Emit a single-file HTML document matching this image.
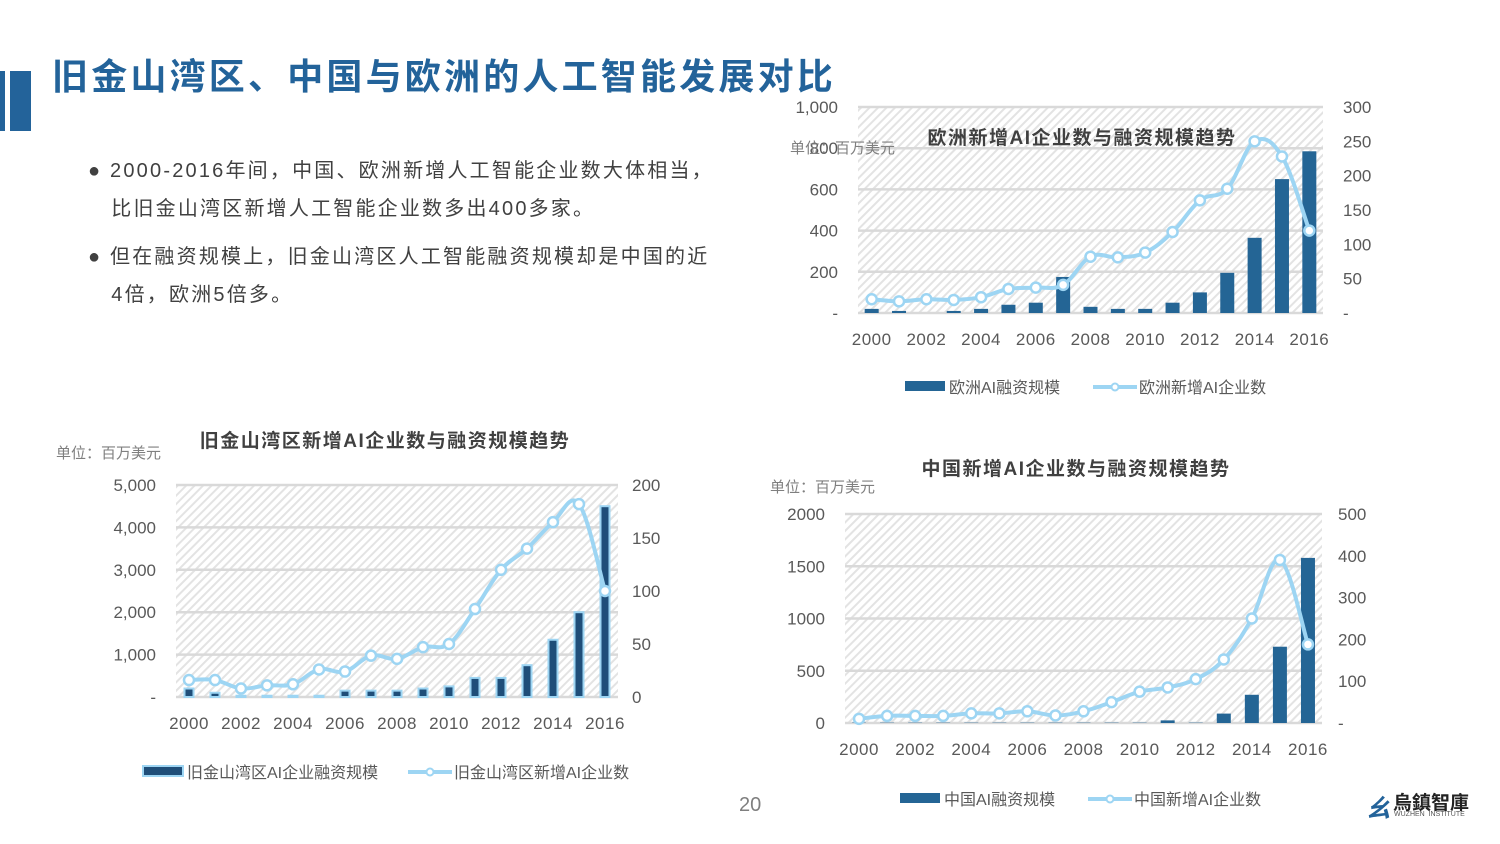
<!DOCTYPE html>
<html><head><meta charset="utf-8">
<style>
body{margin:0;width:1500px;height:844px;background:#fff;overflow:hidden;position:relative;font-family:"Liberation Sans","Noto Sans CJK SC",sans-serif;}
.abs{position:absolute;}
#title{left:52px;top:48px;font-size:36px;font-weight:bold;color:#23639a;letter-spacing:3.2px;white-space:nowrap;}
.bul{left:88px;font-size:20px;color:#404040;line-height:38px;white-space:nowrap;letter-spacing:2.2px}
svg{position:absolute;left:0;top:0;}
</style></head><body>
<div class="abs" style="left:0;top:71px;width:5px;height:60px;background:#23639a"></div>
<div class="abs" style="left:10px;top:71px;width:21px;height:60px;background:#23639a"></div>
<div id="title" class="abs">旧金山湾区、中国与欧洲的人工智能发展对比</div>
<div class="abs bul" style="top:152px">● 2000-2016年间，中国、欧洲新增人工智能企业数大体相当，<br>&nbsp;&nbsp;&nbsp;比旧金山湾区新增人工智能企业数多出400多家。</div>
<div class="abs bul" style="top:238px">● 但在融资规模上，旧金山湾区人工智能融资规模却是中国的近<br>&nbsp;&nbsp;&nbsp;4倍，欧洲5倍多。</div>
<div class="abs" style="left:739px;top:794px;font-size:20px;color:#7f7f7f">20</div>
<div class="abs" style="left:1365px;top:788px;">
  <span style="font-size:26px;color:#23639a;font-weight:bold;font-style:italic">ㄠ</span>
  <span style="position:absolute;left:28px;top:0;font-size:19px;color:#222;white-space:nowrap;font-weight:bold">烏鎮智庫</span>
  <span style="position:absolute;left:29px;top:23px;font-size:7px;color:#555;white-space:nowrap">WUZHEN&nbsp;&nbsp;INSTITUTE</span>
</div>
<svg id="svg" width="1500" height="844">
<defs><pattern id="hatch" width="6" height="6" patternUnits="userSpaceOnUse" patternTransform="rotate(45)"><rect width="6" height="6" fill="#fff"/><rect width="2" height="6" fill="#e3e3e3"/></pattern></defs>
</svg>
<script>
const years=['2000','2001','2002','2003','2004','2005','2006','2007','2008','2009','2010','2011','2012','2013','2014','2015','2016'];
const euFunding=[20,10,0,10,20,40,50,175,30,20,20,50,100,195,365,650,785];
const euCompanies=[20,17,20,19,23,35,37,41,82,81,88,118,164,181,250,228,120];
const euLeftTicks=['-','200','400','600','800','1,000'];
const euRightTicks=['-','50','100','150','200','250','300'];
const sfFunding=[200,100,30,30,30,30,150,150,150,200,250,450,450,750,1350,2000,4500];
const sfCompanies=[16,16,8,11,12,26,24,39,36,47,50,83,120,140,165,182,100];
const sfLeftTicks=['-','1,000','2,000','3,000','4,000','5,000'];
const sfRightTicks=['0','50','100','150','200'];
const cnFunding=[3,3,3,3,3,3,3,3,3,3,3,25,3,90,270,730,1580];
const cnCompanies=[10,17,17,17,23,23,28,18,28,50,75,85,105,152,250,390,188];
const cnLeftTicks=['0','500','1000','1500','2000'];
const cnRightTicks=['-','100','200','300','400','500'];

const svg=document.getElementById('svg');
const NS='http://www.w3.org/2000/svg';
function mk(tag,attrs,parent){const e=document.createElementNS(NS,tag);for(const k in attrs)e.setAttribute(k,attrs[k]);(parent||svg).appendChild(e);return e;}
function txt(x,y,s,size,anchor,fill,weight,parent,ls){const t=mk('text',{x:x,y:y,'font-size':size,'text-anchor':anchor,fill:fill,'font-weight':weight||'normal','letter-spacing':ls||0,'font-family':'"Liberation Sans","Noto Sans CJK SC",sans-serif'},parent);t.textContent=s;return t;}

function chart(c){
  const g=mk('g',{});
  
  
  const w=c.x1-c.x0,h=c.y0-c.y1,n=years.length,step=w/n;
  const xc=i=>c.x0+step*(i+0.5);
  const yl=v=>c.y0-v/c.lmax*h;
  const yr=v=>c.y0-v/c.rmax*h;
  const bg=mk('rect',{x:c.x0,y:c.y1,width:w,height:h,fill:'url(#hatch)'},g);
  
  
  c.lt.forEach((s,i)=>{const y=c.y0-i*h/(c.lt.length-1);
    const gl=mk('line',{x1:c.x0,x2:c.x1,y1:y,y2:y,stroke:'#d9d9d9','stroke-width':2.5},g);
    
    
    const t=txt(c.x0-20,y+6,s,17,'end','#595959','normal',g);
    
    });
  c.rt.forEach((s,i)=>{const y=c.y0-i*h/(c.rt.length-1);
    const t=txt(c.x1+c.rOff,y+6,s,17,'start','#595959','normal',g);
    
    });
  years.forEach((s,i)=>{if(i%2==0){const t=txt(xc(i),c.y0+32,s,17,'middle','#595959','normal',g,0.5);
    
    }});
  c.bars.forEach((v,i)=>{const y=yl(v);
    const r=mk('rect',{x:xc(i)-c.bw/2,y:y,width:c.bw,height:c.y0-y,fill:c.barColor,stroke:c.barStroke||'none','stroke-width':c.barStroke?2:0},g);
    
    });
  const pts=c.line.map((v,i)=>[xc(i),yr(v)]);
  let d='M'+pts[0][0]+','+pts[0][1];
  for(let i=1;i<pts.length;i++){const p0=pts[i-2]||pts[i-1],p1=pts[i-1],p2=pts[i],p3=pts[i+1]||p2;const t=0.18;
    d+=' C'+(p1[0]+(p2[0]-p0[0])*t)+','+(p1[1]+(p2[1]-p0[1])*t)+' '+(p2[0]-(p3[0]-p1[0])*t)+','+(p2[1]-(p3[1]-p1[1])*t)+' '+p2[0]+','+p2[1];}
  const ln=mk('path',{d:d,fill:'none',stroke:'#9dd5f3','stroke-width':4},g);
  
  
  pts.forEach((p,i)=>{const m=mk('circle',{cx:p[0],cy:p[1],r:5,fill:'#fff',stroke:'#9dd5f3','stroke-width':2.5},g);
    
    });
  const t=txt(c.tx,c.ty,c.title,19,'middle','#404040','bold',g,1.5);
  
  
  const u=txt(c.ux,c.uy,'单位：百万美元',15,'start','#7f7f7f','normal',g);
  
  
  const lb=mk('rect',{x:c.lx,y:c.ly-6,width:40,height:10,fill:c.barColor,stroke:c.barStroke||'none','stroke-width':c.barStroke?2:0},g);
  
  
  const l1=txt(c.lx+44,c.ly+6,c.leg1,16,'start','#595959','normal',g);
  
  
  const ll=mk('line',{x1:c.lx2,x2:c.lx2+44,y1:c.ly,y2:c.ly,stroke:'#9dd5f3','stroke-width':4},g);
  
  
  mk('circle',{cx:c.lx2+22,cy:c.ly,r:3.5,fill:'#fff',stroke:'#9dd5f3','stroke-width':2},g);
  const l2=txt(c.lx2+46,c.ly+6,c.leg2,16,'start','#595959','normal',g);
  
  
}
chart({name:'europe-chart',x0:858,x1:1323,y0:313,y1:107,lmax:1000,rmax:300,lt:euLeftTicks,rt:euRightTicks,rOff:20,bars:euFunding,line:euCompanies,bw:14,barColor:'#246595',
  title:'欧洲新增AI企业数与融资规模趋势',tx:1082,ty:144,ux:790,uy:153,lx:905,ly:387,lx2:1093,leg1:'欧洲AI融资规模',leg2:'欧洲新增AI企业数'});
chart({name:'sf-chart',x0:176,x1:618,y0:697,y1:485,lmax:5000,rmax:200,lt:sfLeftTicks,rt:sfRightTicks,rOff:14,bars:sfFunding,line:sfCompanies,bw:9,barColor:'#1f4e79',barStroke:'#9dd5f3',
  title:'旧金山湾区新增AI企业数与融资规模趋势',tx:385,ty:447,ux:56,uy:458,lx:143,ly:772,lx2:408,leg1:'旧金山湾区AI企业融资规模',leg2:'旧金山湾区新增AI企业数'});
chart({name:'china-chart',x0:845,x1:1322,y0:723,y1:514,lmax:2000,rmax:500,lt:cnLeftTicks,rt:cnRightTicks,rOff:16,bars:cnFunding,line:cnCompanies,bw:14,barColor:'#246595',
  title:'中国新增AI企业数与融资规模趋势',tx:1076,ty:475,ux:770,uy:492,lx:900,ly:799,lx2:1088,leg1:'中国AI融资规模',leg2:'中国新增AI企业数'});
</script>
</body></html>
